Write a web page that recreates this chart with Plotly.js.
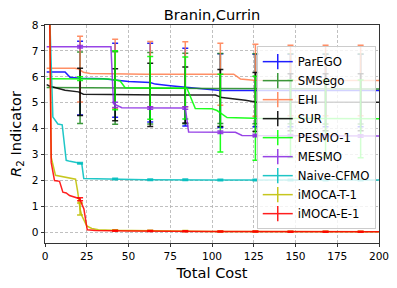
<!DOCTYPE html>
<html>
<head>
<meta charset="utf-8">
<script src="https://cdn.plot.ly/plotly-3.0.1.min.js"></script>
<style>html,body{margin:0;padding:0;background:#fff;}#chart{width:397px;height:288px;}</style>
</head>
<body>
<div id="chart"></div>
<script>
// ---- data ----
const seriesNames = ["ParEGO","SMSego","EHI","SUR","PESMO-1","MESMO","Naive-CFMO","iMOCA-T-1","iMOCA-E-1"];
const seriesColors = ["#0000ff","#228b22","#ff7f50","#000000","#00ff00","#8a2be2","#00bfbf","#bfbf00","#ff0000"];

// cost positions where error bars are drawn
const errX = [21, 42, 63, 84, 105, 126, 147, 168, 189];

const parego_x = [1, 12, 15, 21, 35, 40, 42, 50, 63, 66, 75, 84, 95, 102, 105, 200];
const parego_y = [6.19, 6.19, 5.98, 5.95, 5.93, 5.89, 5.87, 5.82, 5.78, 5.72, 5.66, 5.6, 5.55, 5.49, 5.47, 5.47];
const parego_em = [5.95, 5.87, 5.78, 5.6, 5.47, 5.47, 5.47, 5.47, 5.47];
const parego_err = [1.42, 1.43, 1.52, 1.5, 1.42, 1.4, 1.4, 1.4, 1.4];

const smsego_x = [1, 40, 100, 200];
const smsego_y = [5.59, 5.57, 5.55, 5.53];
const smsego_em = [5.58, 5.57, 5.56, 5.55, 5.55, 5.54, 5.54, 5.53, 5.53];
const smsego_err = [1.38, 1.4, 1.38, 1.36, 1.35, 1.35, 1.35, 1.35, 1.35];

const ehi_x = [1, 18, 20, 23, 27, 40, 60, 100, 113, 117, 125, 200];
const ehi_y = [6.33, 6.33, 6.3, 6.18, 6.13, 6.12, 6.1, 6.1, 6.1, 5.92, 5.87, 5.86];
const ehi_em = [6.3, 6.12, 6.1, 6.1, 6.1, 5.87, 5.86, 5.86, 5.86];
const ehi_err = [1.27, 1.33, 1.26, 1.25, 1.2, 1.39, 1.36, 1.36, 1.36];

const sur_x = [1, 3, 12, 20, 23, 40, 70, 102, 106, 120, 126, 200];
const sur_y = [5.7, 5.64, 5.48, 5.42, 5.33, 5.31, 5.3, 5.3, 5.2, 5.1, 5.03, 5.02];
const sur_em = [5.42, 5.31, 5.3, 5.3, 5.18, 5.03, 5.02, 5.02, 5.02];
const sur_err = [0.91, 1.0, 1.22, 1.08, 1.1, 1.14, 1.1, 1.1, 1.1];

const pesmo_x = [1, 38, 42, 45, 48, 85, 90, 100, 103, 109, 125, 200];
const pesmo_y = [5.93, 5.92, 5.88, 5.84, 5.58, 5.56, 4.78, 4.77, 4.7, 4.43, 4.4, 4.38];
const pesmo_em = [5.93, 5.87, 5.57, 5.57, 4.6, 4.4, 4.39, 4.39, 4.38];
const pesmo_err = [0.07, 1.14, 1.21, 1.2, 1.5, 1.62, 1.5, 1.5, 1.5];

const mesmo_x = [1, 39.5, 41, 43, 46, 84, 86, 114, 118, 200];
const mesmo_y = [7.16, 7.16, 4.96, 4.9, 4.81, 4.8, 3.87, 3.86, 3.74, 3.72];
const mesmo_em = [7.16, 4.92, 4.8, 4.8, 3.86, 3.74, 3.73, 3.72, 3.72];
const mesmo_err = [0.05, 0.1, 0.05, 0.05, 0.05, 0.05, 0.05, 0.05, 0.05];

const naive_x = [2.5, 4.7, 7.7, 10.3, 12.7, 15, 21, 22, 23.2, 40, 60, 100, 200];
const naive_y = [9, 4.45, 4.18, 4.15, 2.78, 2.74, 2.67, 2.66, 2.08, 2.06, 2.03, 2.02, 2.02];
const naive_em = [2.67, 2.06, 2.03, 2.03, 2.02, 2.02, 2.02, 2.02, 2.02];
const naive_err = [0.03, 0.03, 0.03, 0.03, 0.03, 0.03, 0.03, 0.03, 0.03];

const imocat_x = [2.3, 3.7, 6.3, 11.7, 18.3, 19.5, 21, 22, 25, 28, 32, 40, 70, 100, 200];
const imocat_y = [12, 2.9, 2.2, 2.12, 2.05, 1.6, 0.9, 0.65, 0.25, 0.15, 0.1, 0.08, 0.05, 0.03, 0.02];
const imocat_em = [0.9, 0.08, 0.06, 0.05, 0.03, 0.03, 0.02, 0.02, 0.02];
const imocat_err = [0.23, 0.02, 0.02, 0.02, 0.02, 0.02, 0.02, 0.02, 0.02];

const imocae_x = [2, 3.7, 5.7, 8.7, 10.7, 12.7, 14.7, 18.7, 20.7, 22, 23.3, 25.3, 30, 50, 100, 200];
const imocae_y = [14, 2.7, 2.0, 1.97, 1.55, 1.52, 1.42, 1.36, 1.3, 1.1, 0.9, 0.1, 0.07, 0.05, 0.03, 0.02];
const imocae_em = [1.28, 0.06, 0.05, 0.04, 0.03, 0.03, 0.02, 0.02, 0.02];
const imocae_err = [0.06, 0.02, 0.02, 0.02, 0.02, 0.02, 0.02, 0.02, 0.02];

const xTicks = [0, 25, 50, 75, 100, 125, 150, 175, 200];
const yTicks = [0, 1, 2, 3, 4, 5, 6, 7, 8];

const seriesData = [
  [parego_x, parego_y, parego_em, parego_err],
  [smsego_x, smsego_y, smsego_em, smsego_err],
  [ehi_x, ehi_y, ehi_em, ehi_err],
  [sur_x, sur_y, sur_em, sur_err],
  [pesmo_x, pesmo_y, pesmo_em, pesmo_err],
  [mesmo_x, mesmo_y, mesmo_em, mesmo_err],
  [naive_x, naive_y, naive_em, naive_err],
  [imocat_x, imocat_y, imocat_em, imocat_err],
  [imocae_x, imocae_y, imocae_em, imocae_err]
];

const FONT = "DejaVu Sans, sans-serif";
const OP = 0.88;
const traces = [];
seriesData.forEach(function(s, i) {
  const c = seriesColors[i];
  traces.push({
    type: "scatter", mode: "lines", x: s[0], y: s[1],
    line: {color: c, width: 1.5}, opacity: OP, showlegend: false, hoverinfo: "skip"
  });
  traces.push({
    type: "scatter", mode: "markers", x: errX, y: s[2],
    marker: {size: 1, opacity: 0, color: c},
    error_y: {type: "data", array: s[3], visible: true, color: c, thickness: 1.5, width: 3},
    opacity: OP, showlegend: false, hoverinfo: "skip"
  });
});
// legend entries (line + vertical bar glyph, like the error-bar handle)
seriesNames.forEach(function(n, i) {
  traces.push({
    type: "scatter", mode: "lines+markers", x: [null], y: [null], name: n,
    line: {color: seriesColors[i], width: 1.5},
    marker: {symbol: "line-ns-open", size: 11, color: seriesColors[i], line: {width: 1.5, color: seriesColors[i]}},
    opacity: OP
  });
});

const axisCommon = {
  showline: true, linecolor: "#000", linewidth: 0.8, mirror: true,
  ticks: "outside", ticklen: 3.5, tickwidth: 0.8, tickcolor: "#000",
  showgrid: true, gridcolor: "#b0b0b0", gridwidth: 0.8, griddash: "3px,2px",
  zeroline: false, tickfont: {family: FONT, size: 10.6, color: "#000"},
  fixedrange: true
};

const layout = {
  width: 397, height: 288,
  margin: {l: 45, r: 18, t: 25, b: 45, pad: 0},
  paper_bgcolor: "#fff", plot_bgcolor: "#fff",
  font: {family: FONT, color: "#000"},
  title: {text: "Branin,Currin", font: {family: FONT, size: 14.6, color: "#000"},
          x: 0.5, xref: "paper", xanchor: "center", y: 0.932, yref: "container", yanchor: "bottom"},
  xaxis: Object.assign({}, axisCommon, {
    range: [0, 200], tickmode: "array", tickvals: xTicks, ticktext: xTicks.map(String),
    title: {text: "Total Cost", font: {family: FONT, size: 14.6, color: "#000"}, standoff: 6}
  }),
  yaxis: Object.assign({}, axisCommon, {
    range: [-0.41, 8], tickmode: "array", tickvals: yTicks, ticktext: yTicks.map(String),
    title: {text: "<i>R</i><sub>2</sub> Indicator", font: {family: FONT, size: 14.6, color: "#000"}, standoff: 6}
  }),
  legend: {
    x: 0.634, y: 0.903, xref: "paper", yref: "paper", xanchor: "left", yanchor: "top",
    bgcolor: "rgba(255,255,255,0.8)", bordercolor: "#cccccc", borderwidth: 1,
    font: {family: FONT, size: 11.7, color: "#000"}, tracegroupgap: 0
  },
  showlegend: true
};

Plotly.newPlot("chart", traces, layout, {staticPlot: true, displayModeBar: false});
</script>
</body>
</html>
